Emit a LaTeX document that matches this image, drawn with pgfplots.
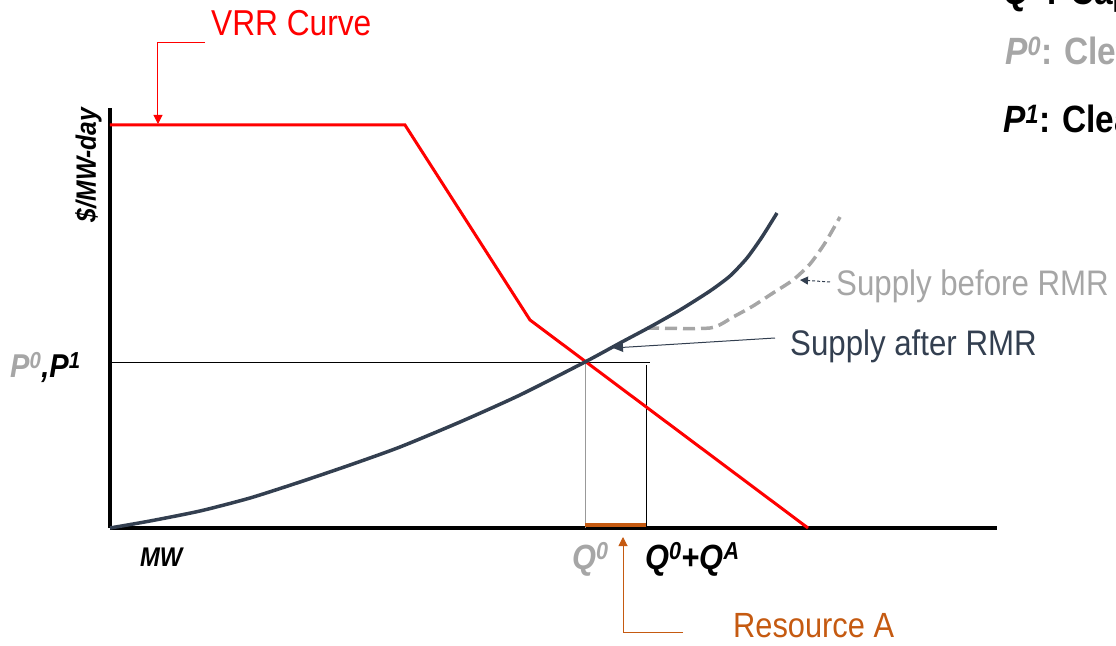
\documentclass[border=0pt]{standalone}
\usepackage{pgfplots}
\pgfplotsset{compat=1.18}
\usepackage{fontspec}
\setmainfont{Liberation Sans}[FakeStretch=0.88]
\usetikzlibrary{arrows.meta}
\definecolor{vrr}{HTML}{FF0000}
\definecolor{navy}{HTML}{333F50}
\definecolor{lgray}{HTML}{A6A6A6}
\definecolor{orng}{HTML}{C55A11}
\begin{document}
\begin{tikzpicture}
\begin{axis}[
  x=1pt, y=1pt, xmin=0, xmax=887, ymin=0, ymax=420,
  axis x line=bottom, axis y line=left,
  axis line style={line width=4pt, -},
  xtick=\empty, ytick=\empty,
  clip=false,
]
% reference lines
\addplot[black, line width=0.8pt] coordinates {(0,166) (540,166)};
\addplot[gray!80, line width=1pt] coordinates {(475,166) (475,0)};
\addplot[black, line width=1pt] coordinates {(536,163) (536,0)};
\addplot[orng, line width=4pt] coordinates {(475,3) (536,3)};
% VRR curve
\addplot[vrr, line width=3pt] coordinates {(0,403) (295,403) (420,208) (698,0)};
% Supply before RMR
\addplot[lgray, line width=3.5pt, dash pattern=on 12pt off 6pt, smooth, tension=0.4] coordinates {(537,200) (600,200) (623,211) (643,222) (663,235) (683,248) (700,264) (715,285) (730,311)};
% Supply after RMR
\addplot[navy, line width=3.5pt, smooth, tension=0.4] coordinates {(0,0) (40,7) (90,17) (140,30) (190,46) (240,63) (290,81) (350,106) (410,133) (475,166) (510,185) (540,201) (570,218) (600,237) (620,252) (637,270) (652,291) (667,315)};
% callouts
\draw[vrr, line width=1pt, -{Triangle[width=9pt,length=9pt]}] (axis cs:95,485) -- (axis cs:48,485) -- (axis cs:48,404);
\draw[navy, densely dashed, line width=1pt, -{Triangle[width=8pt,length=8pt]}] (axis cs:720,246) -- (axis cs:690,248);
\draw[navy, line width=1pt, -{Triangle[width=9pt,length=10pt]}] (axis cs:665,190) -- (axis cs:503,180);
\draw[orng, line width=1pt, -{Triangle[width=9pt,length=9pt]}] (axis cs:573,-104) -- (axis cs:513,-104) -- (axis cs:513,-9);
% labels
\node[text=vrr, font=\fontsize{36}{36}\selectfont, anchor=base west, inner sep=0pt] at (axis cs:101,492) {VRR Curve};
\node[text=lgray, font=\fontsize{35.5}{35.5}\selectfont, anchor=base west, inner sep=0pt] at (axis cs:726,232) {Supply before RMR};
\node[text=navy, font=\fontsize{35.5}{35.5}\selectfont, anchor=base west, inner sep=0pt] at (axis cs:680,172) {Supply after RMR};
\node[text=orng, font=\fontsize{35}{35}\selectfont, anchor=base west, inner sep=0pt] at (axis cs:623,-109) {Resource A};
\node[font=\fontsize{27}{27}\selectfont\bfseries\itshape, anchor=base west, inner sep=0pt] at (axis cs:30,-38) {MW};
\node[text=lgray, font=\fontsize{35}{35}\selectfont\bfseries\itshape, anchor=base west, inner sep=0pt] at (axis cs:462,-41) {Q\textsuperscript{0}};
\node[font=\fontsize{35}{35}\selectfont\bfseries\itshape, anchor=base west, inner sep=0pt] at (axis cs:535,-41) {Q\textsuperscript{0}+Q\textsuperscript{A}};
\node[font=\fontsize{33}{33}\selectfont\bfseries\itshape, anchor=base west, inner sep=0pt] at (axis cs:-100,150) {\textcolor{lgray}{P\textsuperscript{0}},P\textsuperscript{1}};
\node[font=\fontsize{28}{28}\selectfont\bfseries\itshape, anchor=base, rotate=90, inner sep=0pt] at (axis cs:-14,363) {\$/MW-day};
% top-right legend text (cut by page edge, as in the reference)
\node[font=\fontsize{38}{38}\selectfont\bfseries, anchor=base west, inner sep=0pt] at (axis cs:893,523) {\textit{Q\textsuperscript{A}}: Capacity of Resource A};
\node[text=lgray, font=\fontsize{38}{38}\selectfont\bfseries, anchor=base west, inner sep=0pt] at (axis cs:895,463) {\textit{P\textsuperscript{0}}: Clearing price before RMR};
\node[font=\fontsize{38}{38}\selectfont\bfseries, anchor=base west, inner sep=0pt] at (axis cs:893,395) {\textit{P\textsuperscript{1}}: Clearing price after RMR};
\coordinate (bl) at (axis cs:-110,-117);
\coordinate (tr) at (axis cs:1006,528);
\end{axis}
\pgfresetboundingbox
\path[use as bounding box] (bl) rectangle (tr);
\end{tikzpicture}
\end{document}
